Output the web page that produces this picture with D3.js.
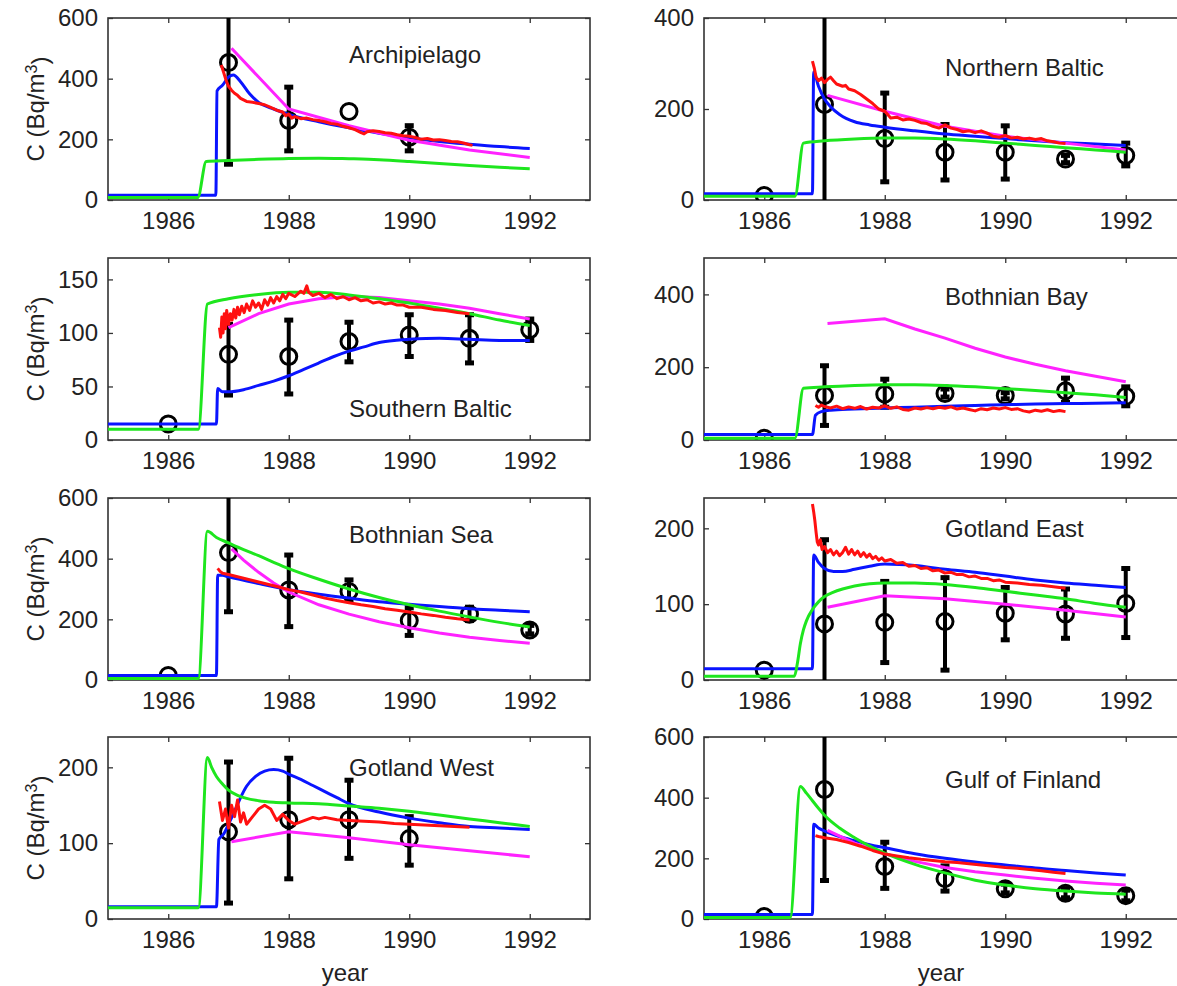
<!DOCTYPE html>
<html>
<head>
<meta charset="utf-8">
<script src="https://cdn.jsdelivr.net/npm/d3@7"></script>
<style>
  body { margin: 0; background: #fff; }
  svg { display: block; font-family: "Liberation Sans", Arial, sans-serif; }
</style>
</head>
<body>
<div class="chartdiv"></div>
<script>
// panel names, y-axis ranges and ticks
var regions = ["Archipielago", "Northern Baltic", "Southern Baltic", "Bothnian Bay",
    "Bothnian Sea", "Gotland East", "Gotland West", "Gulf of Finland"];
var yMax = [600, 400, 170, 500, 600, 240, 240, 600];
var yTicks = [[0, 200, 400, 600], [0, 200, 400], [0, 50, 100, 150], [0, 200, 400],
    [0, 200, 400, 600], [0, 100, 200], [0, 100, 200], [0, 200, 400, 600]];
var xTicks = [1986, 1988, 1990, 1992];

// blue model [year, Bq/m3]
var blueModel = [
    [[1985,16],[1986.79,16],[1986.81,360],[1986.9,378],[1987.0,405],[1987.08,412],[1987.2,390],[1987.35,350],[1987.5,322],[1987.75,300],[1988.0,282],[1988.5,258],[1989.0,238],[1989.5,220],[1990.0,205],[1990.5,193],[1991.0,184],[1991.5,176],[1992.0,170]],
    [[1985,14],[1986.8,14],[1986.82,282],[1986.9,250],[1987.0,222],[1987.1,205],[1987.25,188],[1987.5,172],[1987.75,165],[1988.0,160],[1988.5,152],[1989.0,145],[1989.5,140],[1990.0,135],[1990.5,130],[1991.0,126],[1991.5,123],[1992.0,120]],
    [[1985,15],[1986.8,15],[1986.82,48],[1986.9,45],[1987.0,45],[1987.25,47],[1987.5,51],[1987.75,55],[1988.0,60],[1988.25,66],[1988.5,72],[1988.75,78],[1989.0,83],[1989.25,87],[1989.5,91],[1989.75,93],[1990.0,94],[1990.5,95],[1991.0,94],[1991.5,93],[1992.0,93]],
    [[1985,15],[1986.8,15],[1986.85,68],[1986.95,78],[1987.1,82],[1987.5,85],[1988.0,88],[1988.5,90],[1989.0,93],[1989.5,95],[1990.0,97],[1990.5,99],[1991.0,100],[1991.5,101],[1992.0,102]],
    [[1985,15],[1986.8,15],[1986.82,345],[1986.9,345],[1987.0,340],[1987.5,318],[1988.0,298],[1988.5,283],[1989.0,270],[1989.5,258],[1990.0,250],[1990.5,242],[1991.0,235],[1991.5,230],[1992.0,225]],
    [[1985,15],[1986.8,15],[1986.82,165],[1986.9,155],[1987.0,147],[1987.15,143],[1987.3,143],[1987.5,146],[1987.75,150],[1988.0,153],[1988.5,151],[1989.0,146],[1989.5,142],[1990.0,137],[1990.5,132],[1991.0,128],[1991.5,125],[1992.0,122]],
    [[1985,16],[1986.8,16],[1986.84,105],[1986.92,112],[1987.0,125],[1987.1,142],[1987.2,160],[1987.3,175],[1987.45,188],[1987.6,195],[1987.75,197],[1987.9,195],[1988.0,191],[1988.2,184],[1988.4,176],[1988.6,168],[1988.8,160],[1989.0,152],[1989.5,141],[1990.0,133],[1990.5,127],[1991.0,122],[1991.5,120],[1992.0,118]],
    [[1985,15],[1986.8,15],[1986.82,312],[1986.9,300],[1987.0,290],[1987.25,272],[1987.5,258],[1987.75,245],[1988.0,235],[1988.5,215],[1989.0,200],[1989.5,188],[1990.0,178],[1990.5,168],[1991.0,160],[1991.5,152],[1992.0,145]]
];

// green model
var greenModel = [
    [[1985,8],[1986.49,8],[1986.63,127],[1987.0,130],[1987.5,134],[1988.0,137],[1988.5,138],[1989.0,136],[1989.5,133],[1990.0,127],[1990.5,120],[1991.0,114],[1991.5,108],[1992.0,103]],
    [[1985,8],[1986.51,8],[1986.65,125],[1987.0,130],[1987.5,134],[1988.0,136],[1988.5,136],[1989.0,134],[1989.5,130],[1990.0,125],[1990.5,120],[1991.0,115],[1991.5,110],[1992.0,105]],
    [[1985,10],[1986.5,10],[1986.65,127],[1987.0,132],[1987.5,136],[1988.0,138],[1988.5,138],[1989.0,135.5],[1989.5,132],[1990.0,128],[1990.5,123],[1991.0,118],[1991.5,112],[1992.0,107]],
    [[1985,5],[1986.51,5],[1986.65,142],[1987.0,146],[1987.5,150],[1988.0,152],[1988.5,152],[1989.0,150],[1989.5,146],[1990.0,141],[1990.5,136],[1991.0,130],[1991.5,124],[1992.0,117]],
    [[1985,5],[1986.5,5],[1986.65,490],[1986.8,470],[1987.0,452],[1987.25,430],[1987.5,410],[1987.75,388],[1988.0,367],[1988.5,332],[1989.0,300],[1989.5,272],[1990.0,248],[1990.5,227],[1991.0,208],[1991.5,190],[1992.0,175]],
    [[1985,5],[1986.5,5],[1986.55,22],[1986.6,48],[1986.65,66],[1986.7,78],[1986.8,93],[1986.9,103],[1987.0,110],[1987.15,116],[1987.3,120],[1987.5,124],[1987.75,127],[1988.0,128],[1988.5,128],[1989.0,126],[1989.5,122],[1990.0,117],[1990.5,112],[1991.0,107],[1991.5,101],[1992.0,96]],
    [[1985,15],[1986.5,15],[1986.65,213],[1986.72,200],[1986.8,188],[1986.9,178],[1987.0,170],[1987.15,163],[1987.3,159],[1987.5,156],[1987.75,154],[1988.0,153],[1988.5,152],[1989.0,149],[1989.5,146],[1990.0,142],[1990.5,137],[1991.0,132],[1991.5,127],[1992.0,122]],
    [[1985,5],[1986.43,5],[1986.6,437],[1986.7,415],[1986.8,390],[1986.9,365],[1987.0,342],[1987.25,300],[1987.5,268],[1987.75,240],[1988.0,217],[1988.5,180],[1989.0,152],[1989.5,128],[1990.0,112],[1990.5,100],[1991.0,92],[1991.5,86],[1992.0,82]]
];

// magenta model
var magentaModel = [
    [[1987.05,500],[1988.0,300],[1989.0,245],[1990.0,197],[1991.0,165],[1992.0,140]],
    [[1987.05,230],[1988.0,195],[1989.0,162],[1990.0,140],[1991.0,125],[1992.0,110]],
    [[1987.0,105],[1987.5,118],[1988.0,127],[1988.5,132],[1989.0,134],[1989.5,133],[1990.0,130],[1990.5,127],[1991.0,123],[1991.5,118],[1992.0,113]],
    [[1987.05,320],[1988.0,333],[1988.5,305],[1989.0,280],[1989.5,252],[1990.0,228],[1990.5,208],[1991.0,190],[1991.5,175],[1992.0,160]],
    [[1987.05,432],[1987.25,395],[1987.5,355],[1987.75,320],[1988.0,290],[1988.5,248],[1989.0,217],[1989.5,192],[1990.0,172],[1990.5,155],[1991.0,141],[1991.5,130],[1992.0,121]],
    [[1987.05,96],[1988.0,111],[1989.0,107],[1990.0,100],[1991.0,92],[1992.0,83]],
    [[1987.05,102],[1988.0,115],[1989.0,107],[1990.0,98],[1991.0,90],[1992.0,82]],
    [[1987.05,292],[1987.5,250],[1988.0,215],[1988.5,190],[1989.0,170],[1989.5,156],[1990.0,145],[1990.5,134],[1991.0,125],[1991.5,118],[1992.0,112]]
];

// red model (noisy)
var redModel = [
    [[1986.88,445],[1986.92,420],[1986.96,395],[1987.0,375],[1987.05,362],[1987.1,352],[1987.15,345],[1987.2,335],[1987.25,330],[1987.3,325],[1987.4,322],[1987.5,318],[1987.6,314],[1987.7,305],[1987.8,296],[1987.9,290],[1987.95,278],[1988.0,283],[1988.05,270],[1988.1,275],[1988.2,268],[1988.3,270],[1988.4,265],[1988.5,262],[1988.6,258],[1988.7,252],[1988.8,250],[1988.9,243],[1989.0,238],[1989.1,232],[1989.2,222],[1989.25,218],[1989.3,225],[1989.4,228],[1989.5,226],[1989.6,222],[1989.7,220],[1989.8,215],[1989.9,212],[1990.0,210],[1990.1,206],[1990.2,200],[1990.3,203],[1990.4,198],[1990.5,199],[1990.6,196],[1990.7,193],[1990.8,192],[1990.9,188],[1991.0,182],[1991.05,180]],
    [[1986.8,305],[1986.83,290],[1986.86,270],[1986.9,262],[1986.95,268],[1987.0,258],[1987.05,265],[1987.1,270],[1987.15,262],[1987.2,255],[1987.3,250],[1987.35,252],[1987.4,244],[1987.5,240],[1987.6,232],[1987.7,222],[1987.8,212],[1987.9,200],[1988.0,195],[1988.05,188],[1988.1,180],[1988.2,182],[1988.3,176],[1988.4,178],[1988.5,175],[1988.6,170],[1988.7,168],[1988.8,162],[1988.9,158],[1989.0,165],[1989.1,158],[1989.2,155],[1989.3,150],[1989.4,152],[1989.5,148],[1989.6,152],[1989.7,147],[1989.8,140],[1989.9,138],[1990.0,142],[1990.1,136],[1990.2,138],[1990.3,134],[1990.4,136],[1990.5,133],[1990.6,135],[1990.7,130],[1990.8,128],[1990.9,125],[1991.0,124]],
    [[1986.85,105],[1986.87,96],[1986.89,115],[1986.91,100],[1986.93,118],[1986.95,104],[1986.97,121],[1987.0,108],[1987.03,118],[1987.06,112],[1987.09,122],[1987.12,114],[1987.15,124],[1987.18,117],[1987.22,125],[1987.26,119],[1987.3,127],[1987.35,121],[1987.4,130],[1987.45,124],[1987.5,128],[1987.55,122],[1987.6,131],[1987.65,126],[1987.7,133],[1987.75,128],[1987.8,134],[1987.85,130],[1987.9,136],[1987.95,132],[1988.0,137],[1988.1,134],[1988.2,139],[1988.25,137],[1988.3,144],[1988.33,138],[1988.4,135],[1988.5,137],[1988.6,133],[1988.7,136],[1988.8,132],[1988.9,134],[1989.0,131],[1989.1,133],[1989.2,130],[1989.3,131],[1989.4,128],[1989.5,129],[1989.6,127],[1989.7,128],[1989.8,126],[1989.9,126],[1990.0,124],[1990.2,124],[1990.4,122],[1990.6,121],[1990.8,119],[1991.0,118]],
    [[1986.85,95],[1986.9,90],[1986.95,96],[1987.0,92],[1987.1,88],[1987.2,93],[1987.3,86],[1987.4,91],[1987.5,87],[1987.6,92],[1987.7,85],[1987.8,90],[1987.9,88],[1988.0,94],[1988.1,87],[1988.2,91],[1988.3,84],[1988.4,82],[1988.5,88],[1988.6,85],[1988.7,89],[1988.8,86],[1988.9,90],[1989.0,87],[1989.1,91],[1989.2,85],[1989.3,88],[1989.4,84],[1989.5,80],[1989.6,86],[1989.7,83],[1989.8,88],[1989.9,85],[1990.0,89],[1990.1,84],[1990.2,86],[1990.3,80],[1990.4,77],[1990.5,82],[1990.6,79],[1990.7,83],[1990.8,78],[1990.9,81],[1991.0,78]],
    [[1986.82,368],[1986.86,358],[1986.9,352],[1987.0,348],[1987.2,338],[1987.4,328],[1987.6,318],[1987.8,308],[1988.0,298],[1988.2,290],[1988.4,280],[1988.6,270],[1988.8,262],[1989.0,255],[1989.2,248],[1989.4,242],[1989.6,235],[1989.8,230],[1990.0,224],[1990.2,218],[1990.4,213],[1990.6,207],[1990.8,202],[1991.0,198]],
    [[1986.8,232],[1986.82,222],[1986.84,210],[1986.86,195],[1986.88,182],[1986.9,178],[1986.93,185],[1986.96,172],[1987.0,176],[1987.05,168],[1987.1,172],[1987.15,165],[1987.2,170],[1987.25,164],[1987.3,168],[1987.35,175],[1987.4,166],[1987.45,172],[1987.5,165],[1987.55,170],[1987.6,163],[1987.65,168],[1987.7,162],[1987.75,166],[1987.8,160],[1987.85,163],[1987.9,158],[1987.95,161],[1988.0,157],[1988.1,159],[1988.2,154],[1988.3,155],[1988.4,150],[1988.5,151],[1988.6,147],[1988.7,148],[1988.8,144],[1988.9,145],[1989.0,141],[1989.1,142],[1989.2,139],[1989.3,139],[1989.4,136],[1989.5,137],[1989.6,134],[1989.7,134],[1989.8,131],[1989.9,132],[1990.0,129],[1990.2,128],[1990.4,126],[1990.6,125],[1990.8,123],[1991.0,121]],
    [[1986.85,155],[1986.9,130],[1986.95,145],[1987.0,120],[1987.05,150],[1987.1,135],[1987.15,157],[1987.2,128],[1987.25,140],[1987.3,125],[1987.4,135],[1987.5,145],[1987.6,150],[1987.7,145],[1987.8,130],[1987.9,138],[1988.0,130],[1988.1,125],[1988.2,128],[1988.3,131],[1988.4,134],[1988.5,132],[1988.6,134],[1988.8,131],[1989.0,130],[1989.25,129],[1989.5,128],[1989.75,126],[1990.0,125],[1990.5,123],[1991.0,121]],
    [[1986.85,275],[1986.9,272],[1987.0,268],[1987.2,262],[1987.4,252],[1987.6,240],[1987.8,226],[1988.0,214],[1988.2,208],[1988.4,202],[1988.6,197],[1988.8,193],[1989.0,189],[1989.2,186],[1989.4,182],[1989.6,178],[1989.8,174],[1990.0,170],[1990.2,167],[1990.4,163],[1990.6,159],[1990.8,154],[1991.0,150]]
];

// measurements [year, mean, low, high]
var observed = [
    [[1987,453,118,700],[1988,262,162,372],[1989,292,null,null],[1990,207,162,245]],
    [[1986,10,null,null],[1987,210,-50,500],[1988,135,40,235],[1989,105,44,166],[1990,105,46,163],[1991,90,82,98],[1992,98,75,125]],
    [[1986,15,null,null],[1987,80,42,108],[1988,78,43,112],[1989,92,73,110],[1990,98,78,117],[1991,95,72,117],[1992,103,93,113]],
    [[1986,5,null,null],[1987,122,40,204],[1988,126,90,167],[1989,128,118,140],[1990,122,113,130],[1991,135,103,170],[1992,120,94,146]],
    [[1986,15,null,null],[1987,420,225,700],[1988,297,176,412],[1989,292,262,330],[1990,196,147,238],[1991,217,196,240],[1992,165,152,180]],
    [[1986,13,null,null],[1987,74,-20,185],[1988,76,23,130],[1989,77,13,135],[1990,88,53,122],[1991,87,55,120],[1992,101,56,147]],
    [[1987,115,21,207],[1988,131,53,212],[1989,131,80,183],[1990,106,71,135]],
    [[1986,8,null,null],[1987,427,127,700],[1988,173,101,253],[1989,133,92,175],[1990,100,86,115],[1991,85,70,100],[1992,77,60,95]]
];

// label anchor per panel, in data units
var titleAt = [[1989, 478], [1989, 292], [1989, 29], [1989, 393], [1989, 478], [1989, 200], [1989, 200], [1989, 461]];

var width = 1177, height = 986;
var colX = [108, 704], rowY = [18, 258, 498, 737];
var panelW = 482, panelH = 182;

var svg = d3.select("div.chartdiv").append("svg")
    .attr("width", width)
    .attr("height", height);

var lineCurve = d3.line().curve(d3.curveMonotoneX);
var lineStraight = d3.line();

regions.forEach(function(name, i){
    var col = i % 2, row = Math.floor(i / 2);
    var x = d3.scaleLinear().domain([1985, 1993]).range([0, panelW]);
    var y = d3.scaleLinear().domain([0, yMax[i]]).range([panelH, 0]);

    var g = svg.append("g")
        .attr("transform", "translate(" + colX[col] + "," + rowY[row] + ")");

    g.append("clipPath").attr("id", "clip" + i)
        .append("rect").attr("width", panelW).attr("height", panelH);

    // axes: ticks inside, on all four sides
    var fmt = d3.format("d");
    g.append("g").attr("transform", "translate(0," + panelH + ")")
        .call(d3.axisBottom(x).tickValues(xTicks).tickFormat(fmt).tickSizeInner(-5).tickSizeOuter(0).tickPadding(12));
    g.append("g")
        .call(d3.axisTop(x).tickValues(xTicks).tickFormat("").tickSizeInner(-5).tickSizeOuter(0));
    g.append("g")
        .call(d3.axisLeft(y).tickValues(yTicks[i]).tickFormat(fmt).tickSizeInner(-5).tickSizeOuter(0).tickPadding(10));
    g.append("g").attr("transform", "translate(" + panelW + ",0)")
        .call(d3.axisRight(y).tickValues(yTicks[i]).tickFormat("").tickSizeInner(-5).tickSizeOuter(0));
    g.selectAll(".domain").remove();
    g.selectAll(".tick line").attr("stroke", "#333").attr("stroke-width", 1.3);
    g.selectAll(".tick text")
        .style("font-size", "24px")
        .attr("fill", "#222");

    g.append("rect")
        .attr("width", panelW).attr("height", panelH)
        .attr("fill", "none").attr("stroke", "#333").attr("stroke-width", 1.6);

    var plot = g.append("g").attr("clip-path", "url(#clip" + i + ")");
    var toXY = function(d){ return [x(d[0]), y(d[1])]; };

    // measurement error bars and circles
    var obs = observed[i];
    var withBar = obs.filter(function(d){ return d[2] !== null; });
    plot.selectAll(".bar").data(withBar).enter().append("line")
        .attr("x1", function(d){ return x(d[0]); })
        .attr("x2", function(d){ return x(d[0]); })
        .attr("y1", function(d){ return y(d[2]); })
        .attr("y2", function(d){ return y(d[3]); })
        .attr("stroke", "#000").attr("stroke-width", 4);
    [2, 3].forEach(function(k){
        plot.selectAll(".cap" + k).data(withBar).enter().append("line")
            .attr("x1", function(d){ return x(d[0]) - 4.5; })
            .attr("x2", function(d){ return x(d[0]) + 4.5; })
            .attr("y1", function(d){ return y(d[k]); })
            .attr("y2", function(d){ return y(d[k]); })
            .attr("stroke", "#000").attr("stroke-width", 5);
    });
    plot.selectAll(".obs").data(obs).enter().append("circle")
        .attr("cx", function(d){ return x(d[0]); })
        .attr("cy", function(d){ return y(d[1]); })
        .attr("r", 8)
        .attr("fill", "none").attr("stroke", "#000").attr("stroke-width", 3);

    // model curves
    plot.append("path").attr("d", lineCurve(blueModel[i].map(toXY)))
        .attr("fill", "none").attr("stroke", "#0a14ff").attr("stroke-width", 3);
    plot.append("path").attr("d", lineStraight(magentaModel[i].map(toXY)))
        .attr("fill", "none").attr("stroke", "#ff22ff").attr("stroke-width", 3);
    plot.append("path").attr("d", lineCurve(greenModel[i].map(toXY)))
        .attr("fill", "none").attr("stroke", "#1ee61e").attr("stroke-width", 3);
    plot.append("path").attr("d", lineStraight(redModel[i].map(toXY)))
        .attr("fill", "none").attr("stroke", "#ff1010").attr("stroke-width", 3)
        .attr("stroke-linejoin", "round");

    // region name
    g.append("text")
        .attr("x", x(titleAt[i][0]))
        .attr("y", y(titleAt[i][1]))
        .attr("dy", "0.35em")
        .style("font-size", "24px")
        .attr("fill", "#222")
        .text(name);

    // y label on the left column
    if (col === 0) {
        var lab = svg.append("text")
            .attr("transform", "translate(" + 44 + "," + (rowY[row] + panelH / 2) + ") rotate(-90)")
            .attr("text-anchor", "middle")
            .style("font-size", "24px")
            .attr("fill", "#222");
        lab.append("tspan").text("C (Bq/m");
        lab.append("tspan").attr("dy", "-0.45em").style("font-size", "16px").text("3");
        lab.append("tspan").attr("dy", "0.45em").text(")");
    }
    // x label under the bottom row
    if (row === 3) {
        svg.append("text")
            .attr("x", colX[col] + panelW / 2 - 4)
            .attr("y", rowY[row] + panelH + 62)
            .attr("text-anchor", "middle")
            .style("font-size", "24px")
            .attr("fill", "#222")
            .text("year");
    }
});
</script>
</body>
</html>
